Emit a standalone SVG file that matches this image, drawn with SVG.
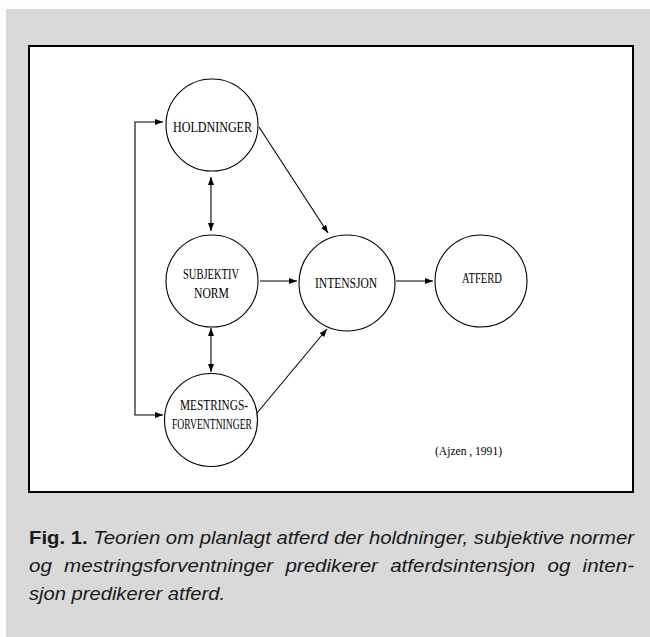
<svg xmlns="http://www.w3.org/2000/svg" width="650" height="637" viewBox="0 0 650 637">
<style>
.node circle{fill:#fff;stroke:#000;stroke-width:1.1}
.lbl{font-family:"Liberation Serif","DejaVu Serif",serif;font-size:14.5px;fill:#000;text-anchor:start}
.con{fill:none;stroke:#000;stroke-width:1.1}
.cap{font-family:"Liberation Sans","Open Sans",sans-serif;font-size:19px;fill:#1a1a1a}
</style>
<defs>
<marker id="arr" viewBox="0 0 8 6" refX="8" refY="3" markerWidth="8" markerHeight="6" markerUnits="userSpaceOnUse" orient="auto-start-reverse">
<path d="M0,0 L8,3 L0,6 z" fill="#000"/>
</marker>
</defs>
<rect x="0" y="0" width="650" height="637" fill="#fdfdfd"/>
<rect x="6" y="9" width="644" height="628" fill="#d9d9d9"/>
<rect x="29" y="46" width="604" height="446" fill="#fff" stroke="#000" stroke-width="2"/>

<g id="connectors">
<line class="con" x1="259" y1="127" x2="328" y2="233" marker-end="url(#arr)"/>
<line class="con" x1="260" y1="281" x2="297" y2="281" marker-end="url(#arr)"/>
<line class="con" x1="257" y1="413" x2="327" y2="329" marker-end="url(#arr)"/>
<line class="con" x1="396" y1="281" x2="433" y2="281" marker-end="url(#arr)"/>
<line class="con" x1="211" y1="177" x2="211" y2="231" marker-start="url(#arr)" marker-end="url(#arr)"/>
<line class="con" x1="211" y1="328" x2="211" y2="372" marker-start="url(#arr)" marker-end="url(#arr)"/>
<path class="con" d="M163,122 H135 V415 H163" marker-start="url(#arr)" marker-end="url(#arr)"/>
</g>

<g id="holdninger" class="node">
<circle cx="212" cy="125" r="46"/>
<text class="lbl" x="173" y="132" textLength="79" lengthAdjust="spacingAndGlyphs">HOLDNINGER</text>
</g>
<g id="subjektiv-norm" class="node">
<circle cx="212" cy="281" r="46"/>
<text class="lbl" x="183" y="279" textLength="56" lengthAdjust="spacingAndGlyphs">SUBJEKTIV</text>
<text class="lbl" x="194" y="298" textLength="35" lengthAdjust="spacingAndGlyphs">NORM</text>
</g>
<g id="mestringsforventninger" class="node">
<circle cx="211" cy="420" r="46.5"/>
<text class="lbl" x="180" y="410" textLength="68" lengthAdjust="spacingAndGlyphs">MESTRINGS-</text>
<text class="lbl" x="172" y="429" textLength="80" lengthAdjust="spacingAndGlyphs">FORVENTNINGER</text>
</g>
<g id="intensjon" class="node">
<circle cx="347" cy="283" r="48"/>
<text class="lbl" x="315" y="288" textLength="62" lengthAdjust="spacingAndGlyphs">INTENSJON</text>
</g>
<g id="atferd" class="node">
<circle cx="481" cy="281" r="46"/>
<text class="lbl" x="462" y="283" textLength="40" lengthAdjust="spacingAndGlyphs">ATFERD</text>
</g>

<text class="lbl" x="435" y="455" style="font-size:13px" textLength="67" lengthAdjust="spacingAndGlyphs">(Ajzen , 1991)</text>

<g id="caption">
<text class="cap" x="29" y="544" textLength="605" lengthAdjust="spacingAndGlyphs"><tspan font-weight="bold">Fig. 1.</tspan><tspan font-style="italic"> Teorien om planlagt atferd der holdninger, subjektive normer</tspan></text>
<text class="cap" x="29" y="572" textLength="605" lengthAdjust="spacingAndGlyphs" font-style="italic" word-spacing="6">og mestringsforventninger predikerer atferdsintensjon og inten-</text>
<text class="cap" x="29" y="600" textLength="196" lengthAdjust="spacingAndGlyphs" font-style="italic">sjon predikerer atferd.</text>
</g>
</svg>
